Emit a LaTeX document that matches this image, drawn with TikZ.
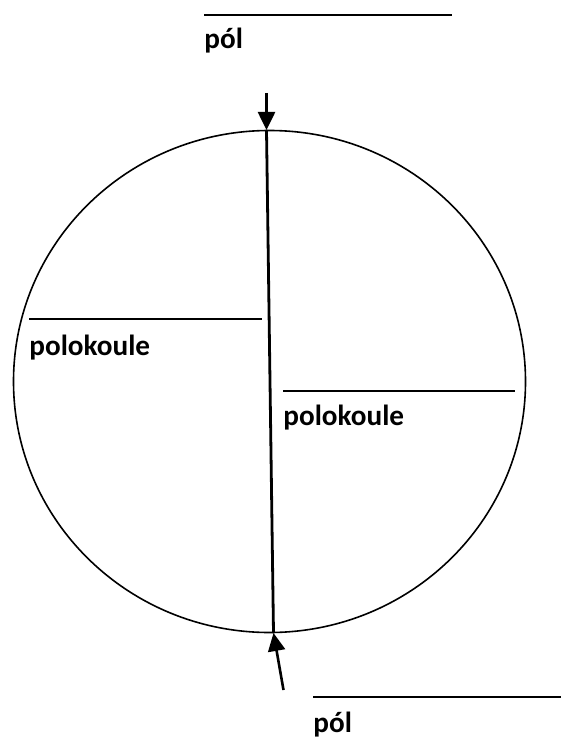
\documentclass[tikz,border=0pt]{standalone}
\usepackage{fontspec}
\setmainfont{Carlito}
\usetikzlibrary{arrows.meta,positioning}

\begin{document}
\begin{tikzpicture}[x=0.5pt,y=-0.5pt,
    answerline/.style={line width=0.7pt},
    label/.style={font=\fontsize{14.6}{17}\selectfont\bfseries, inner sep=0pt, anchor=base west},
    polearrow/.style={-{Triangle[length=9pt,width=8.5pt]}, line width=1.3pt}]
    \useasboundingbox (0,0) rectangle (569,738);

    % Globe
    \draw[line width=0.8pt] (269.5,381.5) ellipse [x radius=256, y radius=251];

    % Poles and axis
    \coordinate (np) at (266.5,130);
    \coordinate (sp) at (273.5,633);
    \draw[line width=1.4pt] (np) -- (sp);

    % North pole
    \coordinate (ntail) at (266.5,93);
    \draw[polearrow] (ntail) -- (np);
    \coordinate (nl1) at (204,15);
    \coordinate (nl2) at (452,15);
    \draw[answerline] (nl1) -- (nl2);
    \node[label] (npol) at (204,49) {pól};

    % South pole
    \coordinate (stail) at (283.5,690);
    \draw[polearrow] (stail) -- (sp);
    \coordinate (sl1) at (313,697);
    \coordinate (sl2) at (561,697);
    \draw[answerline] (sl1) -- (sl2);
    \node[label] (spol) at (313,732) {pól};

    % Western hemisphere
    \coordinate (wl1) at (29,319);
    \coordinate (wl2) at (262,319);
    \draw[answerline] (wl1) -- (wl2);
    \node[label] (whemi) at (29,355) {polokoule};

    % Eastern hemisphere
    \coordinate (el1) at (283,391);
    \coordinate (el2) at (515,391);
    \draw[answerline] (el1) -- (el2);
    \node[label] (ehemi) at (283,425) {polokoule};
\end{tikzpicture}
\end{document}
